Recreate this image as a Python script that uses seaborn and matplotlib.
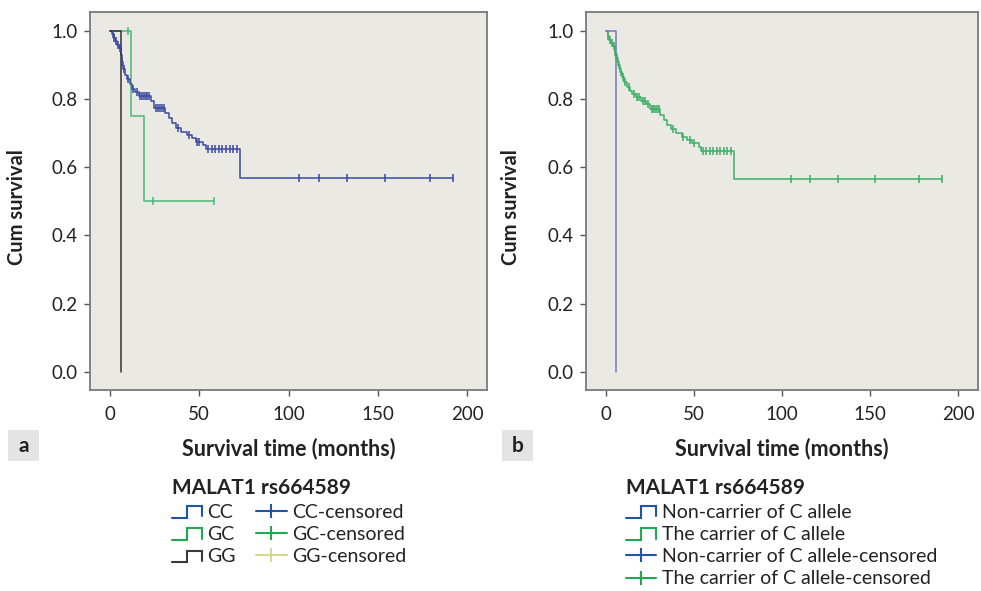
import numpy as np
import matplotlib
matplotlib.use("Agg")
import matplotlib.pyplot as plt
import seaborn as sns
from matplotlib.lines import Line2D
from matplotlib.legend_handler import HandlerBase
from matplotlib.patches import Rectangle

# ---------------- data ----------------
# Panel a: MALAT1 rs664589 genotypes (step points: time, cumulative survival)
cc_t = [0, 1, 2, 3, 4, 5, 6, 6.5, 7.5, 8.5, 9.5, 11, 12.5, 14, 16, 23, 24.5, 31, 33, 35, 37,
        40, 43, 46, 48, 52, 54, 73, 192]
cc_s = [1.0, 0.99, 0.98, 0.97, 0.96, 0.95, 0.93, 0.91, 0.89, 0.87, 0.86, 0.845, 0.83, 0.82,
        0.81, 0.795, 0.775, 0.76, 0.745, 0.73, 0.715, 0.705, 0.695, 0.685, 0.675, 0.665,
        0.655, 0.57, 0.57]
cc_cens = [1.5, 2.5, 3.5, 4.5, 5.5, 7, 8, 10, 13, 15, 17, 18, 19, 20, 21, 22, 25.5, 27, 28,
           29, 30, 38, 44, 49, 50, 55, 57, 59, 61, 63, 65, 67, 69, 71, 106, 117, 133, 154,
           179, 192]

gc_t = [0, 11.5, 19, 58]
gc_s = [1.0, 0.75, 0.5, 0.5]
gc_cens = [10, 24, 58]

gg_t = [0, 6]
gg_s = [1.0, 0.0]

# Panel b: carrier / non-carrier of C allele
car_t = [0, 1, 2, 3, 4, 5, 6, 7, 8, 9, 10.5, 12, 13.5, 15, 17, 20, 23, 25, 31, 33, 35, 37,
         40, 43, 46, 49, 53, 54, 73, 191]
car_s = [1.0, 0.985, 0.975, 0.965, 0.955, 0.94, 0.92, 0.90, 0.88, 0.865, 0.85, 0.835, 0.825,
         0.815, 0.805, 0.795, 0.785, 0.77, 0.755, 0.74, 0.725, 0.712, 0.70, 0.69, 0.68, 0.67,
         0.66, 0.647, 0.567, 0.567]
car_cens = [1.5, 2.5, 3.5, 4.5, 5.5, 6.5, 7.5, 8.5, 10, 11, 13, 16, 18, 19, 21, 22, 24, 26,
            27, 28, 29, 30, 38, 44, 48, 50, 55, 57, 59, 61, 63, 65, 67, 69, 71, 105, 116, 132,
            153, 178, 191]

nc_t = [0, 6]
nc_s = [1.0, 0.0]

x_ticks = [0, 50, 100, 150, 200]
y_ticks = [0.0, 0.2, 0.4, 0.6, 0.8, 1.0]
legend_title = "MALAT1 rs664589"
labels_a = ["CC", "GC", "GG", "CC-censored", "GC-censored", "GG-censored"]
labels_b = ["Non-carrier of C allele", "The carrier of C allele",
            "Non-carrier of C allele-censored", "The carrier of C allele-censored"]

# ---------------- style ----------------
sns.set_theme(style="white")
plt.rcParams["font.family"] = ["Lato", "DejaVu Sans"]
TXT = "#222222"
BG = "#EAE9E4"

W, H = 981, 591
fig = plt.figure(figsize=(W / 100, H / 100), dpi=100)
fig.patch.set_facecolor("white")


def fx(px):
    return px / W


def fy(py):
    return 1 - py / H


ax_a = fig.add_axes([fx(90), fy(390), fx(487 - 90), (390 - 12) / H])
ax_b = fig.add_axes([fx(586), fy(390), fx(978 - 586), (390 - 12) / H])


def surv_at(t, s, times):
    t = np.asarray(t, float)
    s = np.asarray(s, float)
    idx = np.searchsorted(t, np.asarray(times, float), side="right") - 1
    return s[idx]


def draw_curve(ax, t, s, color, cens=None, lw=1.1):
    sns.lineplot(x=t, y=s, ax=ax, estimator=None, sort=False, drawstyle="steps-post",
                 color=color, lw=lw, legend=False)
    if cens is not None:
        sns.scatterplot(x=cens, y=surv_at(t, s, cens), ax=ax, marker="|", s=28,
                        color=color, linewidth=1.1, legend=False, zorder=3)


C_CC = "#3B4A9E"
C_GC = "#49B874"
C_GG = "#333333"
C_NC = "#7479BF"
C_CAR = "#3DAF66"

draw_curve(ax_a, gc_t, gc_s, C_GC, gc_cens)
draw_curve(ax_a, cc_t, cc_s, C_CC, cc_cens)
draw_curve(ax_a, gg_t, gg_s, C_GG)

draw_curve(ax_b, car_t, car_s, C_CAR, car_cens)
draw_curve(ax_b, nc_t, nc_s, C_NC)

for ax in (ax_a, ax_b):
    ax.set_facecolor(BG)
    ax.set_xlim(-11.2, 211.2)
    ax.set_ylim(-0.054, 1.056)
    ax.set_xticks(x_ticks)
    ax.set_xticklabels([str(v) for v in x_ticks])
    ax.set_yticks(y_ticks)
    ax.set_yticklabels([f"{v:.1f}" for v in y_ticks])
    ax.tick_params(axis="both", which="major", direction="out", length=4, width=1,
                   color="#555555", labelsize=13.5, labelcolor=TXT, left=True, bottom=True)
    ax.tick_params(axis="x", pad=7.5)
    ax.tick_params(axis="y", pad=5)
    for sp in ax.spines.values():
        sp.set_color("#7a7a7a")
        sp.set_linewidth(1.3)
    ax.set_xlabel("Survival time (months)", fontsize=15.5, fontweight="bold", color=TXT)
    ax.set_ylabel("Cum survival", fontsize=14.5, fontweight="bold", color=TXT)

ax_a.xaxis.set_label_coords(0.5, -0.125)
ax_b.xaxis.set_label_coords(0.5, -0.125)
ax_a.yaxis.set_label_coords(-0.158, 0.485)
ax_b.yaxis.set_label_coords(-0.166, 0.485)


# ---------------- legends ----------------
class StepLine(Line2D):
    pass


class HandlerStep(HandlerBase):
    def create_artists(self, legend, orig_handle, xdescent, ydescent, width, height,
                       fontsize, trans):
        x0, y0 = -xdescent, -ydescent
        xs = [x0, x0 + 0.5 * width, x0 + 0.5 * width, x0 + width, x0 + width]
        ys = [y0 + 0.0 * height, y0 + 0.0 * height, y0 + 0.85 * height,
              y0 + 0.85 * height, y0 + 0.1 * height]
        ln = Line2D(xs, ys, color=orig_handle.get_color(), lw=1.5,
                    solid_joinstyle="miter")
        ln.set_transform(trans)
        return [ln]


def step_h(c):
    return StepLine([], [], color=c)


def cens_h(c):
    return Line2D([], [], color=c, lw=1.5, marker="|", markersize=10, markeredgewidth=1.5)


L_CC = "#1F55A6"
L_GC = "#1DAA52"
L_GG = "#3a3a3a"
L_GGc = "#D9D68C"

handles_a = [step_h(L_CC), step_h(L_GC), step_h(L_GG), cens_h(L_CC), cens_h(L_GC),
             cens_h(L_GGc)]
handles_b = [step_h(L_CC), step_h(L_GC), cens_h(L_CC), cens_h(L_GC)]

common = dict(loc="upper left", bbox_transform=fig.transFigure, frameon=False,
              title=legend_title, title_fontproperties={"weight": "bold", "size": 15},
              fontsize=14, handlelength=1.55, handletextpad=0.3, labelspacing=0.27,
              borderpad=0, borderaxespad=0, alignment="left", numpoints=1,
              handler_map={StepLine: HandlerStep()}, labelcolor=TXT)

leg_a = fig.legend(handles_a, labels_a, ncol=2, columnspacing=1.05,
                   bbox_to_anchor=(fx(171.5), fy(478.5)), **common)
leg_b = fig.legend(handles_b, labels_b, ncol=1,
                   bbox_to_anchor=(fx(626), fy(478.5)), **common)
for lg in (leg_a, leg_b):
    lg.get_title().set_color(TXT)

# ---------------- panel tags ----------------
for x0, tag in ((8, "a"), (502, "b")):
    fig.add_artist(Rectangle((fx(x0), fy(461)), 31 / W, 31 / H, transform=fig.transFigure,
                             facecolor="#E4E4E4", edgecolor="none"))
    fig.text(fx(x0 + 15.5), fy(445.5), tag, ha="center", va="center", fontsize=15,
             fontweight="bold", color=TXT)

fig.savefig("out.png", dpi=100)
